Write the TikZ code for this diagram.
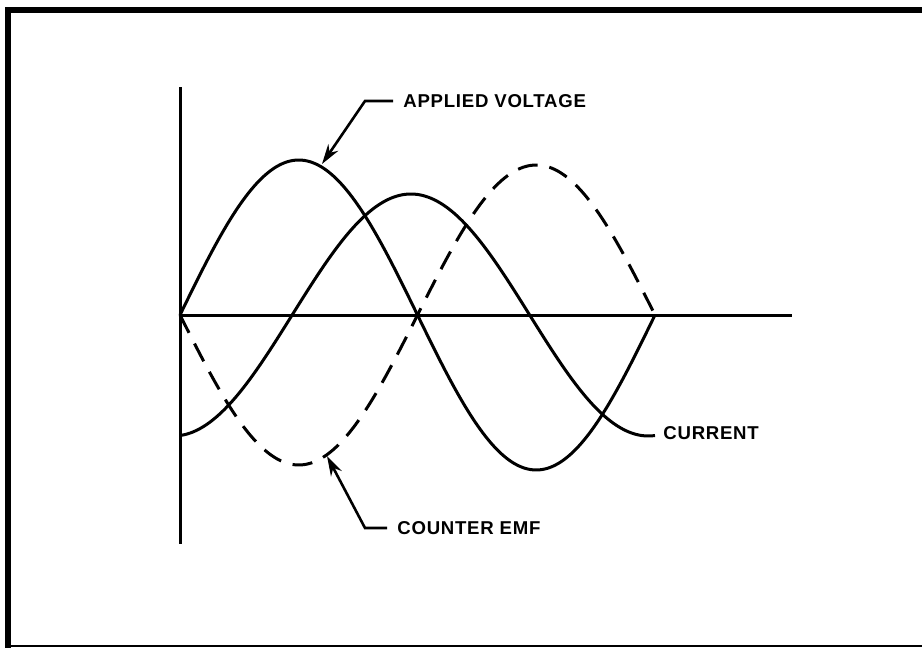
\documentclass[tikz,border=0pt]{standalone}
\usepackage{fontspec}
\setmainfont{Liberation Sans}
\newfontfamily\lblfont[LetterSpace=4]{Liberation Sans}
\usepackage{tikz}
\usetikzlibrary{arrows.meta}

\begin{document}
\begin{tikzpicture}[x=0.5pt, y=-0.5pt,
  wave/.style={line width=1.5pt, line join=round},
  emf/.style={wave, dash pattern=on 10pt off 6pt},
  axis/.style={line width=1.5pt},
  lbl/.style={anchor=west, inner sep=5pt,
              font=\lblfont\fontsize{9.3}{11}\selectfont\bfseries},
  lead/.style={line width=1.3pt, -{Stealth[length=10pt, width=6pt]}}]
  \useasboundingbox (0,0) rectangle (922,648);
  \draw[line width=3pt] (922,10) -- (8,10) -- (8,648);
  \draw[line width=1pt] (8,646) -- (922,646);
  \coordinate (ytop) at (180,87);
  \coordinate (ybot) at (180,544);
  \coordinate (o) at (180,315);
  \coordinate (xend) at (792,315);
  \draw[axis] (ytop) -- (ybot);
  \draw[axis] (o) -- (xend);
  \draw[wave] plot[domain=0:360, samples=91, smooth]
    ({180+1.31944*\x}, {315-155*sin(\x)});
  \draw[wave] plot[domain=0:360, samples=91, smooth]
    ({180+1.31944*\x}, {315+121*cos(\x+5)});
  \draw[emf] plot[domain=0:360, samples=91, smooth]
    ({180+1.31944*\x}, {315+150*sin(\x)});
  \coordinate (vtip) at (322,164);
  \coordinate (etip) at (327,456);
  \node[lbl] (lv) at (393,101) {APPLIED VOLTAGE};
  \node[lbl] (ce) at (387,528) {COUNTER EMF};
  \node[lbl] (cur) at (653,433) {CURRENT};
  \draw[lead] (lv.west) -- ++(-28,0) -- (vtip);
  \draw[lead] (ce.west) -- ++(-22,0) -- (etip);
\end{tikzpicture}
\end{document}
